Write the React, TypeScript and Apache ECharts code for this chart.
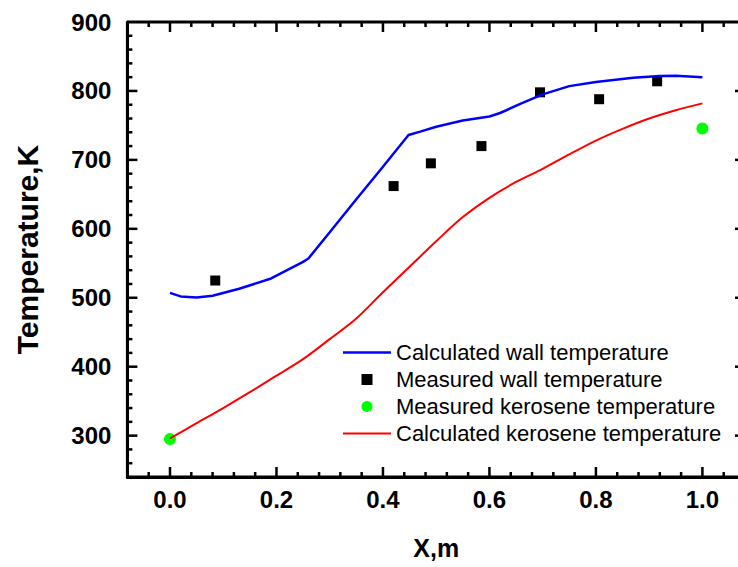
import React, { useEffect, useRef } from "react";
import * as echarts from "echarts";

const calcWallX = [0.0, 0.02, 0.05, 0.08, 0.13, 0.19, 0.25, 0.26, 0.3, 0.35, 0.4, 0.448, 0.47, 0.5, 0.55, 0.6, 0.62, 0.66, 0.7, 0.75, 0.8, 0.87, 0.92, 0.95, 1.0];
const calcWallT = [507, 502, 500.5, 503, 513, 528, 552, 557, 595, 643, 690, 736, 741, 748, 757, 763, 768, 782, 795, 807, 813, 819, 821.5, 822, 820];

const measWallX = [0.085, 0.42, 0.49, 0.585, 0.695, 0.806, 0.915];
const measWallT = [525, 662, 695, 720, 798, 788, 814];

const measKeroX = [0.0, 1.0];
const measKeroT = [295, 745.5];

const calcKeroX = [0.0, 0.05, 0.1, 0.15, 0.2, 0.25, 0.3, 0.35, 0.4, 0.45, 0.5, 0.55, 0.6, 0.65, 0.7, 0.75, 0.8, 0.85, 0.9, 0.95, 1.0];
const calcKeroT = [296, 318, 340, 363, 387, 411, 440, 470, 508, 545, 582, 617, 645, 668, 687, 708, 728, 745, 760, 772, 782];

const seriesNames = [
  "Calculated wall temperature",
  "Measured wall temperature",
  "Measured kerosene temperature",
  "Calculated kerosene temperature",
];

const xMajorTicks = [0.0, 0.2, 0.4, 0.6, 0.8, 1.0];
const xMinorTicks = [-0.04, 0.04, 0.08, 0.12, 0.16, 0.24, 0.28, 0.32, 0.36, 0.44, 0.48, 0.52, 0.56, 0.64, 0.68, 0.72, 0.76, 0.84, 0.88, 0.92, 0.96, 1.04];
const yMajorTicks = [300, 400, 500, 600, 700, 800];
const yMinorTicks = [260, 280, 320, 340, 360, 380, 420, 440, 460, 480, 520, 540, 560, 580, 620, 640, 660, 680, 720, 740, 760, 780, 820, 840, 860, 880];

const X_MIN = -0.08;
const X_MAX = 1.08;
const Y_MIN = 240;
const Y_MAX = 900;

const FONT = "'Liberation Sans', Arial, Helvetica, sans-serif";

const pairs = (xs: number[], ys: number[]) => xs.map((x, i) => [x, ys[i]]);

export default function App() {
  const ref = useRef<HTMLDivElement>(null);
  useEffect(() => {
    if (!ref.current) return;
    const chart = echarts.init(ref.current, null, { renderer: "svg" });

    chart.setOption({
      animation: false,
      grid: { left: 127.4, top: 22, right: 15, bottom: 90 },
      legend: {
        orient: "vertical",
        left: 343,
        top: 339,
        padding: 0,
        itemWidth: 48,
        itemHeight: 11,
        itemGap: 0,
        selectedMode: false,
        symbolKeepAspect: true,
        data: [
          { name: seriesNames[0], icon: "path://M0,0 L48,0 L48,2.5 L0,2.5 Z" },
          { name: seriesNames[1], icon: "path://M0,0 L10,0 L10,10 L0,10 Z" },
          { name: seriesNames[2], icon: "circle" },
          { name: seriesNames[3], icon: "path://M0,0 L48,0 L48,2 L0,2 Z" },
        ],
        textStyle: { fontSize: 22, lineHeight: 27, color: "#000", fontFamily: FONT },
      },
      xAxis: {
        type: "value",
        position: "bottom",
        min: X_MIN,
        max: X_MAX,
        splitNumber: 5,
        axisLine: { show: true, onZero: false, lineStyle: { color: "#000", width: 3 } },
        axisTick: { show: false },
        splitLine: { show: false },
        axisLabel: {
          show: true,
          showMinLabel: false,
          showMaxLabel: false,
          margin: 10,
          fontSize: 24,
          fontWeight: "bold",
          fontFamily: FONT,
          color: "#000",
          formatter: (v: number) => v.toFixed(1),
        },
        name: "X,m",
        nameLocation: "middle",
        nameGap: 58,
        nameTextStyle: { fontSize: 25, fontWeight: "bold", fontFamily: FONT, color: "#000" },
      },
      yAxis: {
        type: "value",
        position: "left",
        min: Y_MIN,
        max: Y_MAX,
        splitNumber: 5,
        axisLine: { show: true, onZero: false, lineStyle: { color: "#000", width: 3 } },
        axisTick: { show: false },
        splitLine: { show: false },
        axisLabel: {
          show: true,
          showMinLabel: false,
          margin: 16,
          fontSize: 24,
          fontWeight: "bold",
          fontFamily: FONT,
          color: "#000",
          formatter: (v: number) => String(Math.round(v)),
        },
        name: "Temperature,K",
        nameLocation: "middle",
        nameGap: 85,
        nameTextStyle: { fontSize: 30, fontWeight: "bold", fontFamily: FONT, color: "#000" },
      },
      series: [
        {
          name: seriesNames[0],
          type: "line",
          data: pairs(calcWallX, calcWallT),
          symbol: "none",
          smooth: false,
          color: "#0000ff",
          lineStyle: { color: "#0000ff", width: 2.5 },
        },
        {
          name: seriesNames[1],
          type: "scatter",
          data: pairs(measWallX, measWallT),
          symbol: "rect",
          symbolSize: 10,
          itemStyle: { color: "#000", opacity: 1 },
        },
        {
          name: seriesNames[2],
          type: "scatter",
          data: pairs(measKeroX, measKeroT),
          symbol: "circle",
          symbolSize: 12,
          itemStyle: { color: "#00ff00", opacity: 1 },
        },
        {
          name: seriesNames[3],
          type: "line",
          data: pairs(calcKeroX, calcKeroT),
          symbol: "none",
          smooth: 0.3,
          color: "#ff0000",
          lineStyle: { color: "#ff0000", width: 2 },
        },
      ],
    });

    // Frame and inward ticks, positioned through the chart's own scales.
    const c = (x: number, y: number) => chart.convertToPixel({ xAxisIndex: 0, yAxisIndex: 0 }, [x, y]) as number[];
    const [xl, yb] = c(X_MIN, Y_MIN);
    const [xr, yt] = c(X_MAX, Y_MAX);
    const elements: any[] = [];
    const st = { stroke: "#000", lineWidth: 2.5 };
    const addX = (vals: number[], len: number) =>
      vals.forEach((v) => {
        const px = c(v, Y_MIN)[0];
        elements.push({ type: "line", z: 100, silent: true, shape: { x1: px, y1: yb, x2: px, y2: yb - len }, style: { ...st } });
        elements.push({ type: "line", z: 100, silent: true, shape: { x1: px, y1: yt, x2: px, y2: yt + len }, style: { ...st } });
      });
    const addY = (vals: number[], len: number) =>
      vals.forEach((v) => {
        const py = c(X_MIN, v)[1];
        elements.push({ type: "line", z: 100, silent: true, shape: { x1: xl, y1: py, x2: xl + len, y2: py }, style: { ...st } });
        elements.push({ type: "line", z: 100, silent: true, shape: { x1: xr, y1: py, x2: xr - len, y2: py }, style: { ...st } });
      });
    addX(xMajorTicks, 10);
    addX(xMinorTicks, 5);
    addY(yMajorTicks, 10);
    addY(yMinorTicks, 5);
    elements.push({ type: "line", z: 100, silent: true, shape: { x1: xl, y1: yt, x2: xr, y2: yt }, style: { stroke: "#000", lineWidth: 3 } });
    elements.push({ type: "line", z: 100, silent: true, shape: { x1: xl, y1: yb, x2: xr, y2: yb }, style: { stroke: "#000", lineWidth: 3 } });
    elements.push({ type: "line", z: 100, silent: true, shape: { x1: xl, y1: yt, x2: xl, y2: yb }, style: { stroke: "#000", lineWidth: 3 } });
    elements.push({ type: "line", z: 100, silent: true, shape: { x1: xr, y1: yt, x2: xr, y2: yb }, style: { stroke: "#000", lineWidth: 3 } });

    chart.setOption({ graphic: { elements } });

    return () => chart.dispose();
  }, []);
  return (
    <div
      style={{ position: "absolute", left: 0, top: 0, width: 738, height: 567, overflow: "hidden", background: "#fff" }}
    >
      <div ref={ref} style={{ width: 760, height: 567 }} />
    </div>
  );
}
